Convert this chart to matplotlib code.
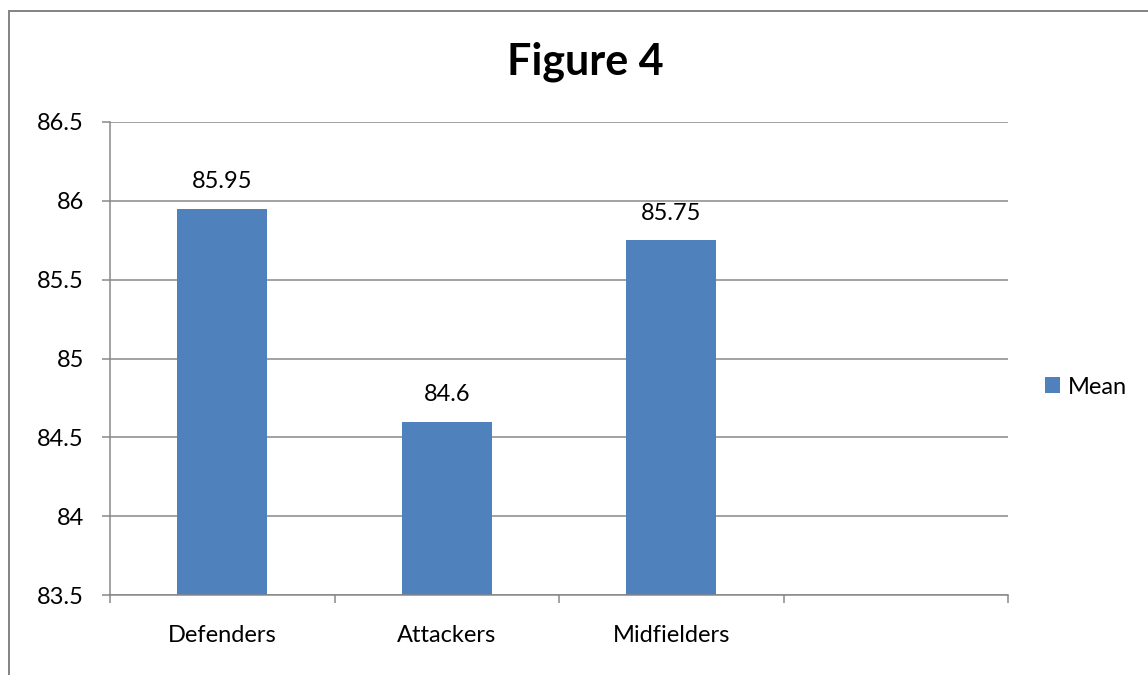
import numpy as np
import matplotlib
matplotlib.use("Agg")
import matplotlib.pyplot as plt
from matplotlib.lines import Line2D
from matplotlib.ticker import FuncFormatter

# values
categories = ["Defenders", "Attackers", "Midfielders", ""]
means = [85.95, 84.6, 85.75, np.nan]
yticks = [83.5, 84, 84.5, 85, 85.5, 86, 86.5]
title = "Figure 4"
series_name = "Mean"

bar_color = "#4F81BD"
grey = "#868686"
W, H = 1148, 675
px = 72 / 100  # points per pixel at dpi 100

plt.rcParams['font.family'] = ['Lato', 'DejaVu Sans']

fig = plt.figure(figsize=(W / 100, H / 100), dpi=100)
ax = fig.add_axes([110 / W, 1 - 595 / H, 898 / W, 473 / H])

x = np.arange(len(categories))
vals = np.array(means, dtype=float)
bars = ax.bar(x[:3], vals[:3], width=0.40, color=bar_color, zorder=3,
              label=series_name)

ax.set_xlim(-0.5, len(categories) - 0.5)
ax.set_ylim(yticks[0], yticks[-1])
ax.set_yticks(yticks)
ax.yaxis.set_major_formatter(FuncFormatter(lambda v, p: f"{v:g}"))

# category boundaries as ticks, names on minor ticks at the centres
ax.set_xticks(np.arange(-0.5, len(categories), 1.0))
ax.set_xticklabels([])
ax.set_xticks(x, minor=True)
ax.set_xticklabels(categories, minor=True)

ax.tick_params(axis='x', which='major', length=8 * px, width=1.5 * px,
               color=grey, direction='out')
ax.tick_params(axis='x', which='minor', length=0, pad=30 * px,
               labelsize=17)
ax.tick_params(axis='y', length=8 * px, width=1.5 * px, color=grey,
               direction='out', pad=18 * px, labelsize=17)

ax.grid(axis='y', color=grey, linewidth=1.5 * px, zorder=0)
for s in ['top', 'right']:
    ax.spines[s].set_visible(False)
for s in ['left', 'bottom']:
    ax.spines[s].set_color(grey)
    ax.spines[s].set_linewidth(1.5 * px)
    ax.spines[s].set_zorder(4)

for b, v in zip(bars, vals[:3]):
    ax.annotate(f"{v:g}", (b.get_x() + b.get_width() / 2, v),
                xytext=(0, 27 * px), textcoords='offset points',
                ha='center', va='center', fontsize=17)

fig.text(585 / W, 1 - 62 / H, title, ha='center', va='center',
         fontsize=31, fontweight='bold')

fig.legend(loc='center left', bbox_to_anchor=(1045 / W, 1 - 387 / H),
           frameon=False, fontsize=17, handlelength=0.64, handleheight=0.64,
           handletextpad=0.34, borderpad=0, borderaxespad=0)

# outer chart-area border (runs off the right and bottom edges)
fig.add_artist(Line2D([9 / W, 9 / W], [0, 1 - 11 / H], color=grey,
                      linewidth=2 * px, transform=fig.transFigure))
fig.add_artist(Line2D([9 / W, 1], [1 - 11 / H, 1 - 11 / H], color=grey,
                      linewidth=2 * px, transform=fig.transFigure))

fig.savefig("out.png", dpi=100)
